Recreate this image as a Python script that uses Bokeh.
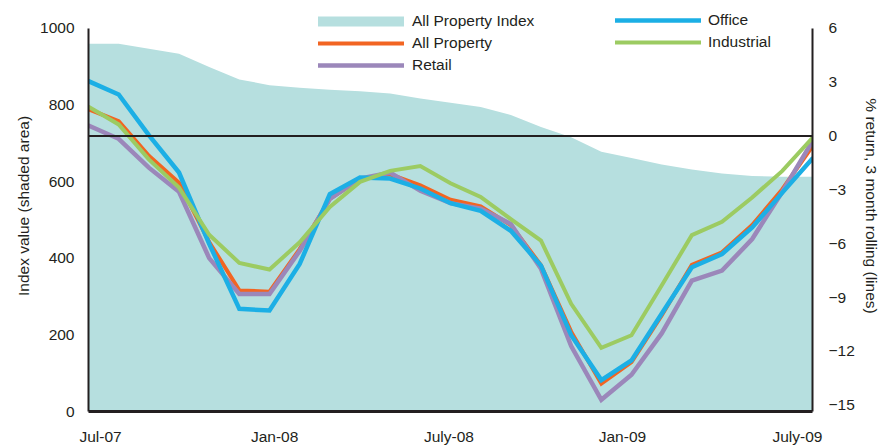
from bokeh.plotting import figure
from bokeh.models import (Range1d, LinearAxis, Span, Legend, LegendItem,
                          FixedTicker, ColumnDataSource)
from bokeh.embed import file_html
from bokeh.resources import INLINE

# ---------------- data ----------------
months = list(range(25))  # Jul-07 .. Jul-09, monthly
tick_labels = ["Jul-07", "Jan-08", "July-08", "Jan-09", "July-09"]

all_property_index = [960, 960, 947, 934, 899, 867, 852, 845, 840, 836, 830, 817, 806,
                      795, 774, 743, 716, 678, 662, 645, 632, 621, 615, 613, 613]

office = [3.06, 2.32, 0.05, -2.03, -6.0, -9.63, -9.72, -7.13, -3.24, -2.31, -2.37, -2.92,
          -3.74, -4.17, -5.28, -7.22, -11.1, -13.6, -12.5, -9.9, -7.31, -6.57, -5.09,
          -3.15, -1.25]
all_property = [1.5, 0.83, -1.1, -2.6, -5.9, -8.6, -8.67, -6.3, -3.5, -2.4, -2.13, -2.74,
                -3.55, -3.92, -4.96, -7.2, -10.9, -13.8, -12.6, -10.0, -7.18, -6.48,
                -4.96, -2.96, -0.56]
retail = [0.59, -0.15, -1.76, -3.1, -6.8, -8.8, -8.8, -6.4, -3.5, -2.37, -2.04, -3.05,
          -3.74, -4.04, -4.9, -7.4, -11.7, -14.7, -13.3, -11.0, -8.05, -7.5, -5.74,
          -3.1, -0.28]
industrial = [1.63, 0.65, -1.3, -2.87, -5.5, -7.07, -7.44, -5.92, -3.95, -2.55, -1.94,
              -1.67, -2.63, -3.39, -4.63, -5.83, -9.35, -11.8, -11.1, -8.33, -5.52,
              -4.78, -3.42, -1.94, -0.1]

# ---------------- styling ----------------
TEXT = "#231f20"
FONT = "Liberation Sans"
FS = "15.5px"
C_AREA = "#b6dfdf"
C_OFFICE = "#1cafe5"
C_ALL = "#f26522"
C_IND = "#9ccb62"
C_RET = "#9b87ba"

# frame spans the full height above the axis; the value axes are bounded
LEFT_MIN, LEFT_MAX = 0, 1000
RIGHT_MIN, RIGHT_MAX = -15.35, 6
FRAME_H, AXIS_H = 412, 384
left_top = LEFT_MIN + (LEFT_MAX - LEFT_MIN) * FRAME_H / AXIS_H
right_top = RIGHT_MIN + (RIGHT_MAX - RIGHT_MIN) * FRAME_H / AXIS_H

src = ColumnDataSource(dict(x=months, idx=all_property_index, office=office,
                            allp=all_property, retail=retail, ind=industrial))

p = figure(width=887, height=447, output_backend="svg", toolbar_location=None,
           x_range=Range1d(0, 24), y_range=Range1d(LEFT_MIN, left_top),
           min_border_left=88, min_border_right=75, min_border_top=0,
           min_border_bottom=35)
p.outline_line_color = None
p.xgrid.visible = False
p.ygrid.visible = False
p.background_fill_color = None
p.border_fill_color = "white"

p.extra_y_ranges = {"ret": Range1d(RIGHT_MIN, right_top)}

area = p.varea(x="x", y1=0, y2="idx", source=src, fill_color=C_AREA)

zero = Span(location=0, dimension="width", y_range_name="ret",
            line_color=TEXT, line_width=2)
p.add_layout(zero)

r_all = p.line("x", "allp", source=src, y_range_name="ret", line_color=C_ALL,
               line_width=4, line_cap="round", line_join="miter")
r_ret = p.line("x", "retail", source=src, y_range_name="ret", line_color=C_RET,
               line_width=4.5, line_cap="round", line_join="miter")
r_off = p.line("x", "office", source=src, y_range_name="ret", line_color=C_OFFICE,
               line_width=4.5, line_cap="round", line_join="miter")
r_ind = p.line("x", "ind", source=src, y_range_name="ret", line_color=C_IND,
               line_width=4, line_cap="round", line_join="miter")

# legend proxy for the shaded area (thick rounded band); draws nothing in the plot
nan = float("nan")
area_proxy = p.line(x=[nan, nan], y=[nan, nan], line_color=C_AREA, line_width=10,
                    line_cap="round")

# ---------------- axes ----------------
xa = p.xaxis[0]
xa.ticker = FixedTicker(ticks=[0.4, 6.17, 11.95, 17.7, 23.5])
xa.major_label_overrides = {0.4: tick_labels[0], 6.17: tick_labels[1],
                            11.95: tick_labels[2], 17.7: tick_labels[3],
                            23.5: tick_labels[4]}
xa.axis_line_color = TEXT
xa.axis_line_width = 3
xa.major_tick_line_color = None
xa.minor_tick_line_color = None
xa.major_label_standoff = 10
xa.major_label_text_font = FONT
xa.major_label_text_font_size = FS
xa.major_label_text_color = TEXT

ya = p.yaxis[0]
ya.bounds = (LEFT_MIN, LEFT_MAX)
ya.ticker = FixedTicker(ticks=[0, 200, 400, 600, 800, 1000])
ya.axis_label = "Index value (shaded area)"
ya.axis_line_color = TEXT
ya.axis_line_width = 2
ya.major_tick_line_color = None
ya.minor_tick_line_color = None
ya.major_label_standoff = 8
ya.axis_label_standoff = 5
ya.major_label_text_font = FONT
ya.major_label_text_font_size = FS
ya.major_label_text_color = TEXT
ya.axis_label_text_font = FONT
ya.axis_label_text_font_size = FS
ya.axis_label_text_font_style = "normal"
ya.axis_label_text_color = TEXT

ra = LinearAxis(y_range_name="ret", bounds=(RIGHT_MIN, RIGHT_MAX),
                ticker=FixedTicker(ticks=[-15, -12, -9, -6, -3, 0, 3, 6]),
                axis_label="% return, 3 month rolling (lines)")
ra.axis_line_color = TEXT
ra.axis_line_width = 2
ra.major_tick_line_color = None
ra.minor_tick_line_color = None
ra.major_label_standoff = 10
ra.axis_label_standoff = 5
ra.major_label_text_font = FONT
ra.major_label_text_font_size = FS
ra.major_label_text_color = TEXT
ra.axis_label_text_font = FONT
ra.axis_label_text_font_size = FS
ra.axis_label_text_font_style = "normal"
ra.axis_label_text_color = TEXT
p.add_layout(ra, "right")

# ---------------- legends ----------------
def style_legend(lg):
    lg.padding = 0
    lg.margin = 0
    lg.spacing = 2
    lg.glyph_width = 86
    lg.glyph_height = 20
    lg.label_height = 20
    lg.label_standoff = 8
    lg.background_fill_alpha = 0
    lg.border_line_color = None
    lg.label_text_font = FONT
    lg.label_text_font_size = FS
    lg.label_text_color = TEXT

leg1 = Legend(items=[LegendItem(label="All Property Index", renderers=[area_proxy]),
                     LegendItem(label="All Property", renderers=[r_all]),
                     LegendItem(label="Retail", renderers=[r_ret])],
              location=(230, 336))
style_legend(leg1)
leg2 = Legend(items=[LegendItem(label="Office", renderers=[r_off]),
                     LegendItem(label="Industrial", renderers=[r_ind])],
              location=(527, 359))
style_legend(leg2)
leg2.label_standoff = 7
p.add_layout(leg1, "center")
p.add_layout(leg2, "center")

open("out.html", "w").write(file_html(p, INLINE))
